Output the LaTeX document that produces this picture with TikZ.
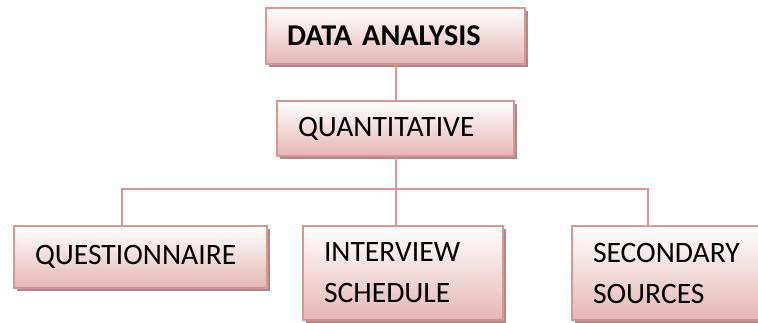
\documentclass[tikz,border=0pt]{standalone}
\usepackage{fontspec}
\setmainfont{Carlito}
\usetikzlibrary{shadows}
\definecolor{bordRose}{RGB}{217,150,148}
\definecolor{fondRose}{RGB}{229,182,181}
\definecolor{ombre}{RGB}{172,138,138}

\begin{document}
\begin{tikzpicture}[x=1pt,y=-1pt,
    boite/.style={draw=bordRose, line width=2pt, top color=white, bottom color=fondRose,
      drop shadow={shadow xshift=3pt, shadow yshift=-3pt, fill=ombre, opacity=1},
      anchor=north west, align=left, inner xsep=21pt, inner ysep=0pt,
      font=\fontsize{29.6}{41}\selectfont},
    lien/.style={draw=bordRose, line width=2pt}]
    \useasboundingbox (0,0) rectangle (758,322);

    \pgfmathsetmacro{\yBus}{189}     % hauteur de la barre horizontale
    \pgfmathsetmacro{\xGauche}{122}  % descente vers la gauche
    \pgfmathsetmacro{\xDroite}{648}  % descente vers la droite

    % Les boites
    \node[boite, text width=217pt, minimum height=56pt,
          font=\fontsize{30.2}{41}\selectfont\bfseries] (analyse) at (265,7) {DATA ANALYSIS};
    \node[boite, text width=195pt, minimum height=55pt] (quanti) at (276,100) {QUANTITATIVE};
    \node[boite, text width=211pt, minimum height=62pt] (quest) at (13,225) {QUESTIONNAIRE};
    \node[boite, text width=158pt, minimum height=94pt] (entretien) at (302,225) {INTERVIEW\\SCHEDULE};
    \node[boite, text width=160pt, minimum height=94pt] (secondaire) at (571,225) {SECONDARY\\SOURCES};

    % Les liens
    \coordinate (busG) at (\xGauche,\yBus);
    \coordinate (busD) at (\xDroite,\yBus);
    \draw[lien] (analyse.south) -- (quanti.north);
    \draw[lien] (quanti.south) -- (quanti.south |- entretien.north);
    \draw[lien] (busG |- quest.north) -- (busG) -- (busD) -- (busD |- secondaire.north);
\end{tikzpicture}
\end{document}
